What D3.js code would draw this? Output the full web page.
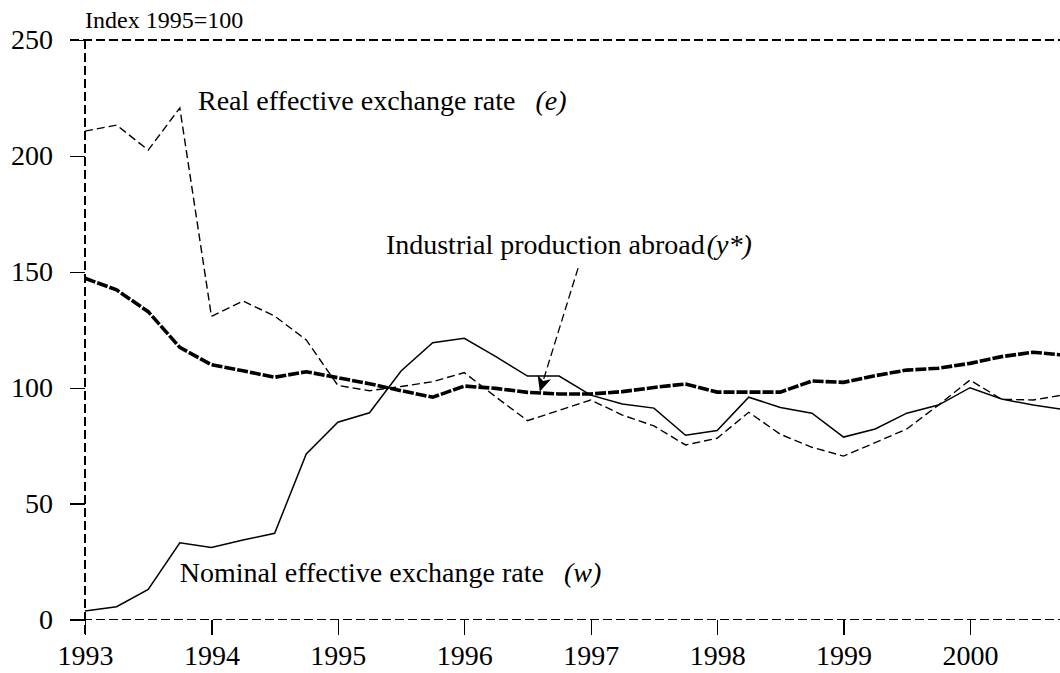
<!DOCTYPE html>
<html lang="en">
<head>
  <meta charset="utf-8">
  <title>Exchange rates and industrial production abroad</title>
  <script src="https://d3js.org/d3.v7.min.js"></script>
  <style>
    body { margin: 0; background: #fff; }
    svg text { font-family: "Liberation Serif", "Times New Roman", serif; fill: #000; }
    .tick line { stroke: #000; stroke-width: 1.3; shape-rendering: crispEdges; }
  </style>
</head>
<body>
  <div id="chart"></div>

  <script>
    "use strict"

    // quarters 1993Q1 .. 2000Q4
    var quarters = ["1993Q1","1993Q2","1993Q3","1993Q4","1994Q1","1994Q2","1994Q3","1994Q4",
                    "1995Q1","1995Q2","1995Q3","1995Q4","1996Q1","1996Q2","1996Q3","1996Q4",
                    "1997Q1","1997Q2","1997Q3","1997Q4","1998Q1","1998Q2","1998Q3","1998Q4",
                    "1999Q1","1999Q2","1999Q3","1999Q4","2000Q1","2000Q2","2000Q3","2000Q4"];

    // real effective exchange rate (e)
    var realRate = [210.7, 213.3, 202.5, 220.7, 130.8, 137.4, 130.9, 120.6,
                    101.0, 98.7, 100.5, 102.6, 106.5, 96.0, 85.8, 90.2,
                    94.7, 88.2, 83.5, 75.3, 78.2, 89.4, 79.9, 74.3,
                    70.5, 76.3, 82.2, 92.5, 103.3, 95.0, 94.7, 97.0];

    // nominal effective exchange rate (w)
    var nominalRate = [3.7, 5.5, 13.0, 33.1, 31.1, 34.3, 37.2, 71.4,
                       85.1, 89.2, 107.2, 119.4, 121.3, 113.4, 105.0, 105.0,
                       96.8, 93.0, 91.2, 79.5, 81.5, 95.9, 91.5, 89.0,
                       78.7, 82.2, 89.0, 92.5, 100.0, 95.1, 92.5, 90.5];

    // industrial production abroad (y*)
    var industry = [147.2, 142.2, 132.8, 117.4, 109.9, 107.3, 104.5, 106.9,
                    104.3, 101.7, 98.7, 95.9, 100.7, 99.7, 98.0, 97.3,
                    97.3, 98.3, 100.1, 101.6, 98.1, 98.1, 98.1, 102.9,
                    102.3, 105.2, 107.6, 108.4, 110.5, 113.4, 115.3, 114.0];

    var yearTicks = [1993, 1994, 1995, 1996, 1997, 1998, 1999, 2000];
    var valueTicks = [0, 50, 100, 150, 200, 250];

    function quarterToYear(q) {
      return +q.slice(0, 4) + (+q.slice(5) - 1) / 4;
    }

    var larguraSVG = 1060, alturaSVG = 673;
    var margin = {left: 85, top: 40};

    var svg = d3.select('#chart')
      .append('svg')
        .attr('width', larguraSVG)
        .attr('height', alturaSVG);

    var x = d3.scaleLinear()
              .domain([1993, 2001])
              .range([margin.left, margin.left + 8 * 126.43]);

    var y = d3.scaleLinear()
              .domain([0, 250])
              .range([619.5, margin.top]);

    // axes
    var xAxis = svg.append('g')
      .attr('transform', 'translate(0,' + y(0) + ')')
      .call(d3.axisBottom(x).tickValues(yearTicks).tickFormat(d3.format('d'))
              .tickSize(15).tickPadding(13));
    xAxis.select('.domain').remove();
    xAxis.selectAll('text')
      .attr('font-size', 28)
      .attr('y', 45)
      .attr('dy', 0);

    var yAxis = svg.append('g')
      .attr('transform', 'translate(' + x(1993) + ',0)')
      .call(d3.axisLeft(y).tickValues(valueTicks).tickSize(15).tickPadding(17));
    yAxis.select('.domain').remove();
    yAxis.selectAll('text').attr('font-size', 28);

    // dashed frame
    var frame = svg.append('g')
      .attr('fill', 'none')
      .attr('stroke', '#000')
      .attr('stroke-width', 1.3)
      .attr('stroke-dasharray', '9,4')
      .attr('shape-rendering', 'crispEdges');
    frame.append('line')
      .attr('x1', x(1993)).attr('x2', x(1993))
      .attr('y1', y(250)).attr('y2', y(0) + 15);
    frame.append('line')
      .attr('x1', x(1993) - 15).attr('x2', x(2001))
      .attr('y1', y(250)).attr('y2', y(250));
    frame.append('line')
      .attr('x1', x(1993) - 15).attr('x2', x(2001))
      .attr('y1', y(0)).attr('y2', y(0));

    svg.append('text')
      .attr('x', x(1993))
      .attr('y', y(250) - 12)
      .attr('font-size', 24)
      .text('Index 1995=100');

    // series
    function linha(valores) {
      return d3.line()
        .x(function(d, i) { return x(quarterToYear(quarters[i])); })
        .y(function(d) { return y(d); })(valores);
    }

    svg.append('path')
      .attr('d', linha(nominalRate))
      .attr('fill', 'none')
      .attr('stroke', '#000')
      .attr('stroke-width', 1.5);

    svg.append('path')
      .attr('d', linha(realRate))
      .attr('fill', 'none')
      .attr('stroke', '#000')
      .attr('stroke-width', 1.4)
      .attr('stroke-dasharray', '8,4');

    svg.append('path')
      .attr('d', linha(industry))
      .attr('fill', 'none')
      .attr('stroke', '#000')
      .attr('stroke-width', 3.6)
      .attr('stroke-dasharray', '11,2');

    // labels
    function rotulo(px, py, texto, simbolo, espaco) {
      var t = svg.append('text')
        .attr('x', x(px))
        .attr('y', y(py))
        .attr('font-size', 28);
      t.append('tspan').text(texto);
      t.append('tspan')
        .attr('dx', espaco)
        .attr('font-style', 'italic')
        .text(simbolo);
    }

    rotulo(1993.894, 219.8, 'Real effective exchange rate', '(e)', 20);
    rotulo(1995.38, 157.7, 'Industrial production abroad', '(y*)', 2);
    rotulo(1993.75, 16.3, 'Nominal effective exchange rate', '(w)', 20);

    // arrow to y*
    svg.append('defs').append('marker')
      .attr('id', 'seta')
      .attr('viewBox', '0 -7 15 14')
      .attr('refX', 14)
      .attr('refY', 0)
      .attr('markerWidth', 15)
      .attr('markerHeight', 14)
      .attr('markerUnits', 'userSpaceOnUse')
      .attr('orient', 'auto')
      .append('path')
        .attr('d', 'M0,-7L15,0L0,7L4,0Z')
        .attr('fill', '#000');

    svg.append('line')
      .attr('x1', x(1996.9)).attr('y1', y(151.6))
      .attr('x2', x(1996.6)).attr('y2', y(98.8))
      .attr('stroke', '#000')
      .attr('stroke-width', 1.3)
      .attr('stroke-dasharray', '8,4')
      .attr('marker-end', 'url(#seta)');
  </script>
</body>
</html>
